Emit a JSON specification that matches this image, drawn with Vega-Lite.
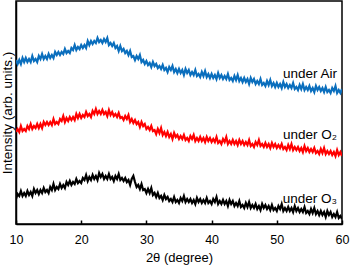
{
  "$schema": "https://vega.github.io/schema/vega-lite/v6.json",
  "width": 326,
  "height": 223,
  "autosize": "none",
  "padding": {"left": 16, "top": 1, "right": 8, "bottom": 42},
  "config": {
    "view": {"stroke": "black", "strokeWidth": 1.5},
    "font": "Liberation Sans",
    "axis": {"labelFont": "Liberation Sans", "titleFont": "Liberation Sans", "labelColor": "black", "titleColor": "black", "titleFontWeight": "normal", "grid": false}
  },
  "layer": [
    {
      "data": {"values": [
{"x":10,"a":164,"b":92,"c":25},{"x":10.25,"a":160,"b":95,"c":30},{"x":10.5,"a":164,"b":92,"c":28},{"x":10.75,"a":160,"b":98,"c":33},
{"x":11,"a":166,"b":93,"c":28},{"x":11.25,"a":162,"b":95,"c":31},{"x":11.5,"a":166,"b":93,"c":28},{"x":11.75,"a":162,"b":98,"c":33},
{"x":12,"a":165,"b":95,"c":29},{"x":12.25,"a":162,"b":100,"c":32},{"x":12.5,"a":168,"b":95,"c":28},{"x":12.75,"a":163,"b":98,"c":35},
{"x":13,"a":165,"b":96,"c":31},{"x":13.25,"a":162,"b":100,"c":34},{"x":13.5,"a":168,"b":96,"c":30},{"x":13.75,"a":165,"b":100,"c":34},
{"x":14,"a":170,"b":96,"c":31},{"x":14.25,"a":165,"b":102,"c":36},{"x":14.5,"a":168,"b":99,"c":32},{"x":14.75,"a":165,"b":102,"c":34},
{"x":15,"a":170,"b":99,"c":31},{"x":15.25,"a":166,"b":102,"c":37},{"x":15.5,"a":169,"b":99,"c":34},{"x":15.75,"a":166,"b":105,"c":40},
{"x":16,"a":172,"b":100,"c":34},{"x":16.25,"a":169,"b":102,"c":37},{"x":16.5,"a":172,"b":100,"c":35},{"x":16.75,"a":169,"b":105,"c":40},
{"x":17,"a":172,"b":103,"c":36},{"x":17.25,"a":170,"b":108,"c":39},{"x":17.5,"a":175,"b":102,"c":36},{"x":17.75,"a":171,"b":106,"c":42},
{"x":18,"a":173,"b":103,"c":39},{"x":18.25,"a":171,"b":107,"c":43},{"x":18.5,"a":176,"b":104,"c":39},{"x":18.75,"a":174,"b":107,"c":42},
{"x":19,"a":179,"b":104,"c":40},{"x":19.25,"a":174,"b":110,"c":45},{"x":19.5,"a":177,"b":106,"c":41},{"x":19.75,"a":175,"b":110,"c":43},
{"x":20,"a":179,"b":106,"c":41},{"x":20.25,"a":176,"b":109,"c":46},{"x":20.5,"a":179,"b":107,"c":44},{"x":20.75,"a":176,"b":112,"c":49},
{"x":21,"a":183,"b":108,"c":43},{"x":21.25,"a":179,"b":110,"c":47},{"x":21.5,"a":183,"b":107,"c":44},{"x":21.75,"a":180,"b":113,"c":49},
{"x":22,"a":183,"b":110,"c":45},{"x":22.25,"a":181,"b":115,"c":48},{"x":22.5,"a":186,"b":110,"c":44},{"x":22.75,"a":182,"b":113,"c":51},
{"x":23,"a":184,"b":110,"c":47},{"x":23.25,"a":181,"b":114,"c":50},{"x":23.5,"a":185,"b":110,"c":45},{"x":23.75,"a":182,"b":112,"c":48},
{"x":24,"a":186,"b":108,"c":45},{"x":24.25,"a":179,"b":114,"c":50},{"x":24.5,"a":181,"b":109,"c":45},{"x":24.75,"a":178,"b":112,"c":47},
{"x":25,"a":181,"b":108,"c":43},{"x":25.25,"a":176,"b":110,"c":48},{"x":25.5,"a":178,"b":107,"c":45},{"x":25.75,"a":173,"b":111,"c":50},
{"x":26,"a":178,"b":106,"c":44},{"x":26.25,"a":173,"b":107,"c":46},{"x":26.5,"a":175,"b":104,"c":43},{"x":26.75,"a":171,"b":108,"c":46},
{"x":27,"a":173,"b":105,"c":42},{"x":27.25,"a":169,"b":109,"c":44},{"x":27.5,"a":173,"b":102,"c":39},{"x":27.75,"a":167,"b":105,"c":45},
{"x":28,"a":168,"b":101,"c":48},{"x":28.25,"a":164,"b":104,"c":42},{"x":28.5,"a":168,"b":100,"c":37},{"x":28.75,"a":165,"b":102,"c":39},
{"x":29,"a":169,"b":97,"c":35},{"x":29.25,"a":162,"b":102,"c":40},{"x":29.5,"a":164,"b":98,"c":34},{"x":29.75,"a":160,"b":100,"c":35},
{"x":30,"a":163,"b":95,"c":31},{"x":30.25,"a":159,"b":97,"c":35},{"x":30.5,"a":161,"b":94,"c":31},{"x":30.75,"a":157,"b":98,"c":36},
{"x":31,"a":162,"b":93,"c":29},{"x":31.25,"a":158,"b":94,"c":31},{"x":31.5,"a":160,"b":90,"c":27},{"x":31.75,"a":156,"b":95,"c":31},
{"x":32,"a":158,"b":91,"c":26},{"x":32.25,"a":155,"b":96,"c":28},{"x":32.5,"a":159,"b":89,"c":24},{"x":32.75,"a":154,"b":92,"c":29},
{"x":33,"a":156,"b":88,"c":25},{"x":33.25,"a":152,"b":92,"c":27},{"x":33.5,"a":157,"b":87,"c":23},{"x":33.75,"a":154,"b":90,"c":25},
{"x":34,"a":158,"b":85,"c":22},{"x":34.25,"a":152,"b":91,"c":27},{"x":34.5,"a":155,"b":87,"c":22},{"x":34.75,"a":151,"b":89,"c":24},
{"x":35,"a":155,"b":85,"c":21},{"x":35.25,"a":151,"b":88,"c":26},{"x":35.5,"a":154,"b":85,"c":23},{"x":35.75,"a":149,"b":89,"c":28},
{"x":36,"a":155,"b":84,"c":22},{"x":36.25,"a":151,"b":86,"c":25},{"x":36.5,"a":154,"b":83,"c":22},{"x":36.75,"a":149,"b":88,"c":25},
{"x":37,"a":152,"b":85,"c":21},{"x":37.25,"a":149,"b":89,"c":24},{"x":37.5,"a":154,"b":83,"c":20},{"x":37.75,"a":148,"b":86,"c":26},
{"x":38,"a":150,"b":83,"c":22},{"x":38.25,"a":147,"b":87,"c":25},{"x":38.5,"a":152,"b":83,"c":21},{"x":38.75,"a":148,"b":86,"c":24},
{"x":39,"a":153,"b":82,"c":21},{"x":39.25,"a":147,"b":87,"c":26},{"x":39.5,"a":150,"b":83,"c":21},{"x":39.75,"a":146,"b":86,"c":23},
{"x":40,"a":150,"b":82,"c":20},{"x":40.25,"a":146,"b":85,"c":25},{"x":40.5,"a":149,"b":82,"c":22},{"x":40.75,"a":145,"b":87,"c":27},
{"x":41,"a":151,"b":81,"c":20},{"x":41.25,"a":146,"b":83,"c":23},{"x":41.5,"a":149,"b":80,"c":20},{"x":41.75,"a":145,"b":85,"c":24},
{"x":42,"a":148,"b":82,"c":20},{"x":42.25,"a":145,"b":87,"c":23},{"x":42.5,"a":150,"b":80,"c":18},{"x":42.75,"a":144,"b":83,"c":24},
{"x":43,"a":146,"b":80,"c":20},{"x":43.25,"a":143,"b":84,"c":23},{"x":43.5,"a":148,"b":80,"c":18},{"x":43.75,"a":144,"b":83,"c":21},
{"x":44,"a":149,"b":79,"c":18},{"x":44.25,"a":143,"b":84,"c":23},{"x":44.5,"a":146,"b":80,"c":17},{"x":44.75,"a":142,"b":83,"c":19},
{"x":45,"a":146,"b":79,"c":16},{"x":45.25,"a":142,"b":82,"c":21},{"x":45.5,"a":145,"b":79,"c":17},{"x":45.75,"a":140,"b":84,"c":22},
{"x":46,"a":146,"b":78,"c":16},{"x":46.25,"a":142,"b":80,"c":19},{"x":46.5,"a":145,"b":77,"c":16},{"x":46.75,"a":140,"b":82,"c":20},
{"x":47,"a":143,"b":79,"c":15},{"x":47.25,"a":140,"b":84,"c":18},{"x":47.5,"a":145,"b":78,"c":14},{"x":47.75,"a":139,"b":80,"c":20},
{"x":48,"a":141,"b":77,"c":16},{"x":48.25,"a":138,"b":81,"c":19},{"x":48.5,"a":143,"b":77,"c":15},{"x":48.75,"a":139,"b":80,"c":18},
{"x":49,"a":144,"b":76,"c":14},{"x":49.25,"a":138,"b":81,"c":19},{"x":49.5,"a":141,"b":77,"c":14},{"x":49.75,"a":137,"b":80,"c":16},
{"x":50,"a":141,"b":76,"c":13},{"x":50.25,"a":137,"b":79,"c":18},{"x":50.5,"a":140,"b":76,"c":15},{"x":50.75,"a":136,"b":80,"c":20},
{"x":51,"a":142,"b":75,"c":13},{"x":51.25,"a":137,"b":77,"c":16},{"x":51.5,"a":140,"b":74,"c":13},{"x":51.75,"a":136,"b":79,"c":17},
{"x":52,"a":139,"b":75,"c":13},{"x":52.25,"a":136,"b":80,"c":16},{"x":52.5,"a":141,"b":74,"c":12},{"x":52.75,"a":135,"b":77,"c":18},
{"x":53,"a":137,"b":74,"c":13},{"x":53.25,"a":134,"b":77,"c":16},{"x":53.5,"a":139,"b":73,"c":12},{"x":53.75,"a":135,"b":76,"c":15},
{"x":54,"a":140,"b":72,"c":12},{"x":54.25,"a":134,"b":78,"c":17},{"x":54.5,"a":137,"b":73,"c":11},{"x":54.75,"a":134,"b":76,"c":13},
{"x":55,"a":138,"b":72,"c":10},{"x":55.25,"a":133,"b":75,"c":15},{"x":55.5,"a":136,"b":72,"c":11},{"x":55.75,"a":132,"b":76,"c":16},
{"x":56,"a":138,"b":71,"c":10},{"x":56.25,"a":134,"b":73,"c":13},{"x":56.5,"a":137,"b":70,"c":9},{"x":56.75,"a":133,"b":75,"c":13},
{"x":57,"a":136,"b":71,"c":9},{"x":57.25,"a":132,"b":76,"c":12},{"x":57.5,"a":137,"b":70,"c":7},{"x":57.75,"a":132,"b":73,"c":13},
{"x":58,"a":134,"b":70,"c":9},{"x":58.25,"a":131,"b":73,"c":12},{"x":58.5,"a":136,"b":69,"c":7},{"x":58.75,"a":133,"b":72,"c":10},
{"x":59,"a":138,"b":68,"c":7},{"x":59.25,"a":131,"b":74,"c":12},{"x":59.5,"a":134,"b":69,"c":6},{"x":59.75,"a":131,"b":72,"c":8},
{"x":60,"a":135,"b":68,"c":5}
      ]},
      "transform": [{"fold": ["a", "b", "c"], "as": ["s", "y"]}],
      "mark": {"type": "line", "strokeWidth": 2.2, "clip": true},
      "encoding": {
        "x": {"field": "x", "type": "quantitative",
              "scale": {"domain": [10, 60], "nice": false, "zero": false},
              "axis": {"values": [10, 20, 30, 40, 50, 60], "title": "2θ (degree)", "tickSize": -4, "tickWidth": 1.5, "tickColor": "black",
                       "domainColor": "black", "domainWidth": 1.5, "labelFontSize": 12.5, "titleFontSize": 13, "labelPadding": 13, "titlePadding": 6, "labelFlush": false}},
        "y": {"field": "y", "type": "quantitative",
              "scale": {"domain": [0, 223], "nice": false, "zero": false},
              "axis": {"title": "Intensity (arb. units.)", "labels": false, "ticks": false, "domainColor": "black", "domainWidth": 1.5, "titleFontSize": 13.5, "titlePadding": 2}},
        "color": {"field": "s", "type": "nominal", "legend": null,
                  "scale": {"domain": ["a", "b", "c"], "range": ["#0a6ebd", "#ff0000", "#000000"]}}
      }
    },
    {
      "data": {"values": [
        {"x": 59.23, "y": 146, "label": "under Air"},
        {"x": 59.23, "y": 85, "label": "under O₂"},
        {"x": 59.23, "y": 21, "label": "under O₃"}
      ]},
      "mark": {"type": "text", "align": "right", "baseline": "alphabetic", "fontSize": 13.5, "color": "black"},
      "encoding": {
        "x": {"field": "x", "type": "quantitative"},
        "y": {"field": "y", "type": "quantitative"},
        "text": {"field": "label"}
      }
    }
  ]
}
